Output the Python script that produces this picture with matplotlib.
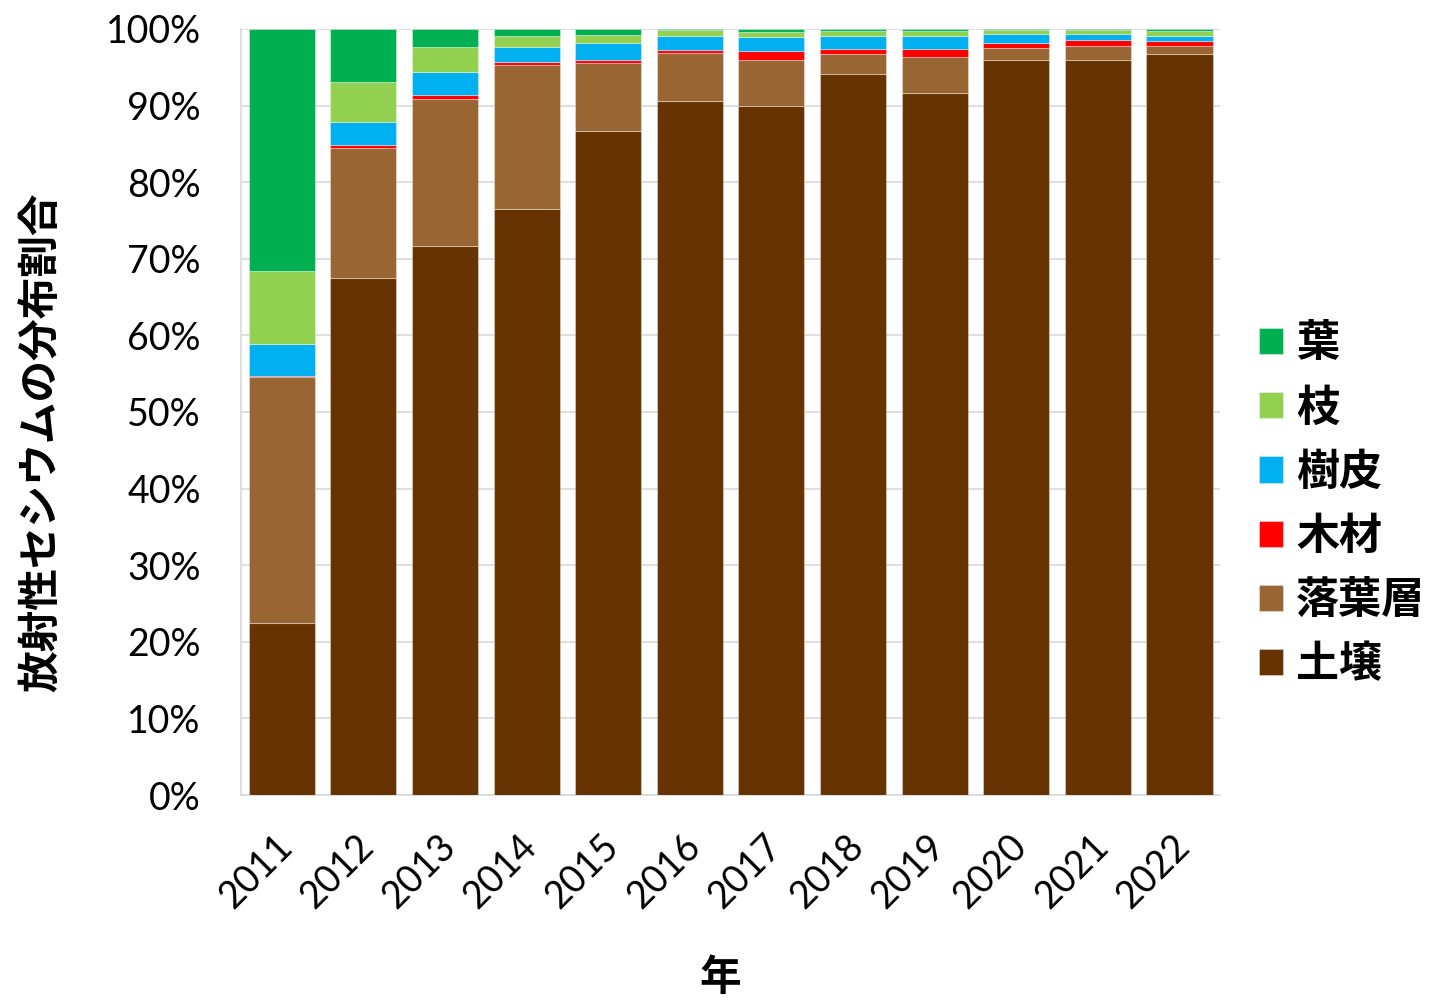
import matplotlib.pyplot as plt
import matplotlib.transforms as mtransforms
import numpy as np

plt.rcParams['font.family'] = ['Noto Sans CJK JP', 'DejaVu Sans']

years = ['2011', '2012', '2013', '2014', '2015', '2016',
         '2017', '2018', '2019', '2020', '2021', '2022']

# share of radiocesium by compartment (%), bottom to top
soil   = [22.5, 67.5, 71.7, 76.5, 86.7, 90.6, 90.0, 94.1, 91.7, 96.0, 96.0, 96.7]
litter = [32.0, 16.9, 19.2, 18.8, 8.8, 6.2, 6.0, 2.6, 4.7, 1.5, 1.8, 1.1]
wood   = [0.2, 0.4, 0.5, 0.4, 0.5, 0.5, 1.1, 0.7, 1.0, 0.7, 0.8, 0.6]
bark   = [4.2, 3.1, 3.0, 1.9, 2.1, 1.8, 1.9, 1.7, 1.7, 1.2, 0.8, 0.7]
branch = [9.5, 5.2, 3.3, 1.5, 1.1, 0.7, 0.6, 0.6, 0.6, 0.4, 0.4, 0.6]
leaf   = [31.6, 6.9, 2.3, 0.9, 0.8, 0.2, 0.4, 0.3, 0.3, 0.2, 0.2, 0.3]

series = [('土壌', soil, '#663300'),
          ('落葉層', litter, '#996633'),
          ('木材', wood, '#FF0000'),
          ('樹皮', bark, '#00B0F0'),
          ('枝', branch, '#92D050'),
          ('葉', leaf, '#00B050')]

fig = plt.figure(figsize=(14.34, 10.08), dpi=100)
ax = fig.add_axes([0.168, 0.2113, 0.683, 0.76])

x = np.arange(len(years))
bottom = np.zeros(len(years))
handles = []
for name, vals, color in series:
    vals = np.array(vals)
    b = ax.bar(x, vals, 0.81, bottom=bottom, color=color, label=name,
               edgecolor=(1, 1, 1, 0.35), linewidth=0.8, zorder=3)
    handles.append(b)
    bottom += vals

ax.set_xlim(-0.5, len(years) - 0.5)
ax.set_ylim(0, 100)
ax.set_yticks(np.arange(0, 101, 10))
ax.set_yticklabels([f'{v}%' for v in range(0, 101, 10)],
                   family='Lato', fontsize=27)
ax.set_xticks(x)
ax.set_xticklabels(years, family='Lato', fontsize=27, rotation=45,
                   ha='right', va='top', rotation_mode='anchor')
ax.tick_params(axis='both', length=0)
ax.tick_params(axis='y', pad=29)
ax.tick_params(axis='x', pad=24)

# nudge the rotated year labels a little to the left
shift = mtransforms.ScaledTranslation(-8 / 100, 0, fig.dpi_scale_trans)
for lbl in ax.get_xticklabels():
    lbl.set_transform(lbl.get_transform() + shift)

ax.grid(axis='y', color='#D9D9D9', linewidth=1.2, zorder=0)
for s in ['top', 'right']:
    ax.spines[s].set_visible(False)
for s in ['left', 'bottom']:
    ax.spines[s].set_color('#D9D9D9')
    ax.spines[s].set_linewidth(1.2)

ax.set_ylabel('放射性セシウムの分布割合', fontsize=30, fontweight='bold')
ax.yaxis.set_label_coords(-0.181, 0.461)
ax.set_xlabel('年', fontsize=30, fontweight='bold')
ax.xaxis.set_label_coords(0.489, -0.212)

leg = ax.legend(handles[::-1], [s[0] for s in series][::-1],
                loc='center left', bbox_to_anchor=(1.0, 0.38),
                frameon=False, prop={'size': 31, 'weight': 'bold'},
                handlelength=0.56, handleheight=0.56, handletextpad=0.3,
                labelspacing=0.47)

fig.savefig('out.png', dpi=100)
